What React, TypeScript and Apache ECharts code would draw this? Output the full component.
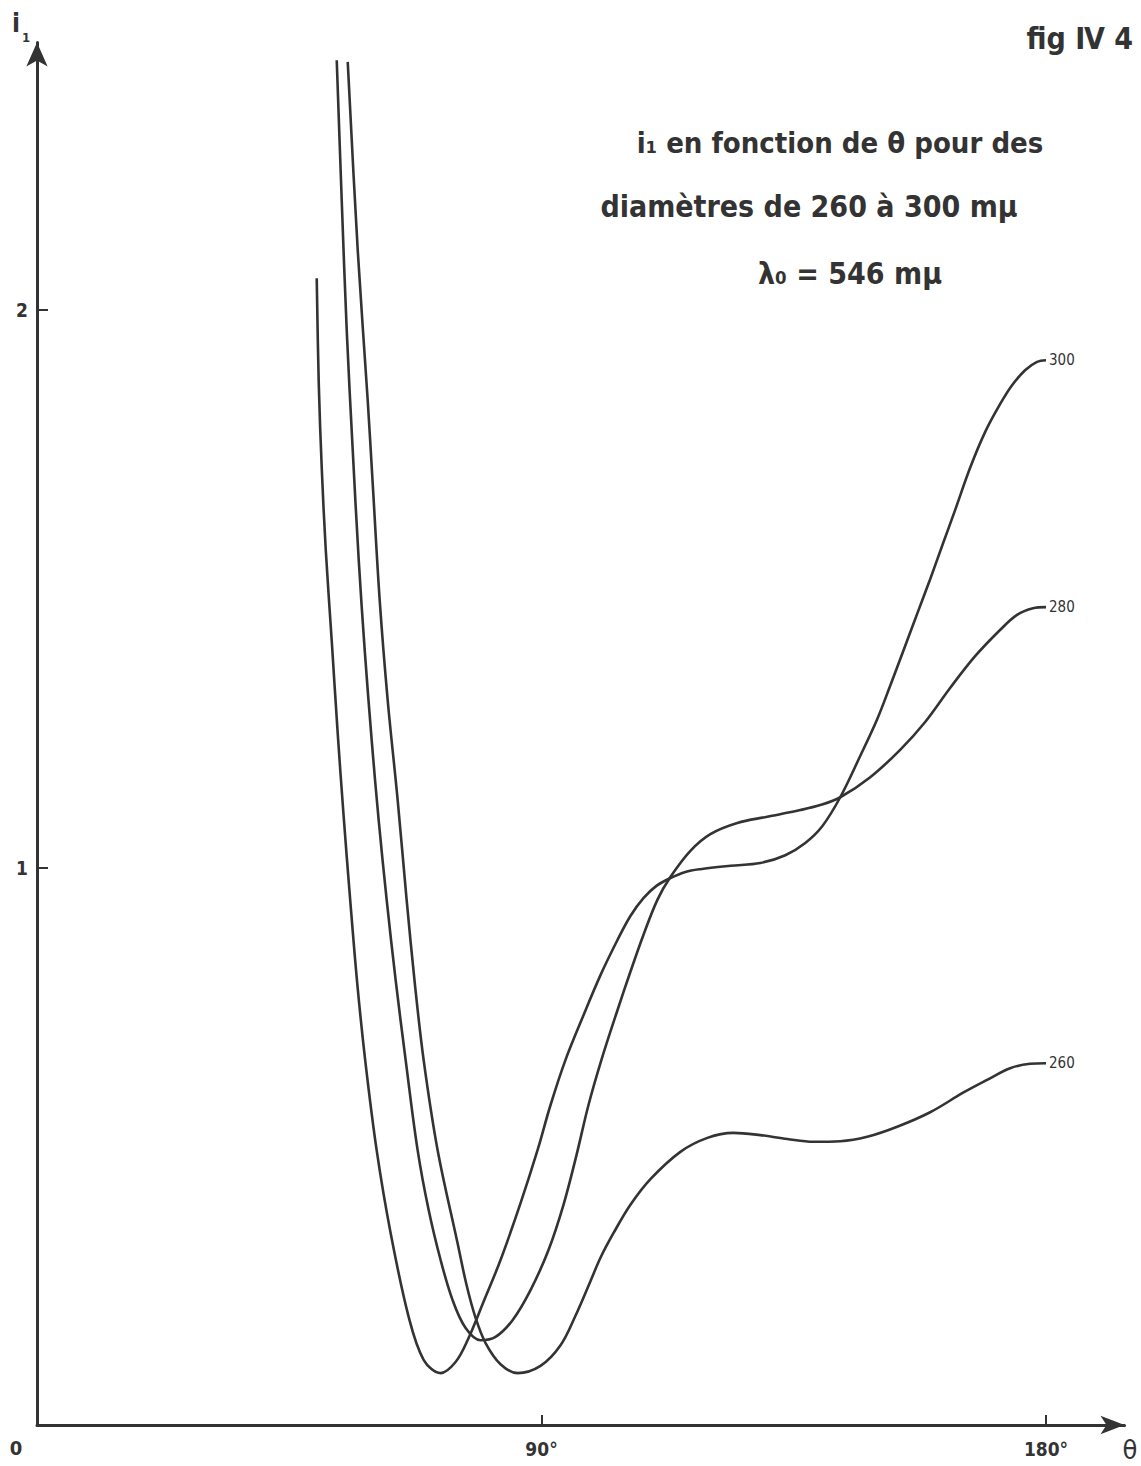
import React, { useEffect, useRef } from "react";
import * as echarts from "echarts";

// Scattering angle θ (degrees) and intensity i1 for each diameter (mμ)
const theta300 = [49.9, 50.26, 50.79, 51.51, 52.57, 53.64, 54.71, 55.87, 57.12, 58.54, 60.59, 63.09, 66.3, 68.97, 72.0, 74.67, 76.81, 79.66, 82.69, 86.26, 89.29, 91.61, 94.28, 97.49, 100.52, 103.55, 105.86, 108.18, 110.5, 112.99, 115.67, 118.34, 123.69, 129.03, 133.49, 137.05, 140.08, 143.29, 146.85, 149.88, 152.2, 154.52, 157.01, 159.33, 161.65, 163.78, 166.46, 169.13, 171.8, 173.94, 176.26, 178.4, 180];
const i300 = [2.057, 1.869, 1.718, 1.57, 1.408, 1.241, 1.091, 0.942, 0.793, 0.655, 0.493, 0.344, 0.194, 0.117, 0.093, 0.113, 0.152, 0.221, 0.296, 0.398, 0.493, 0.574, 0.655, 0.735, 0.807, 0.87, 0.913, 0.945, 0.967, 0.981, 0.992, 0.997, 1.003, 1.008, 1.022, 1.044, 1.074, 1.126, 1.2, 1.266, 1.326, 1.388, 1.455, 1.517, 1.582, 1.641, 1.717, 1.781, 1.831, 1.865, 1.892, 1.907, 1.91];

const theta280 = [53.47, 54.36, 55.25, 56.32, 57.39, 58.46, 59.7, 60.95, 62.38, 63.98, 65.76, 67.9, 69.86, 72.0, 74.14, 76.46, 79.13, 81.8, 84.83, 88.04, 91.25, 93.92, 96.24, 98.38, 100.69, 103.55, 105.86, 108.18, 110.67, 112.99, 116.56, 120.12, 124.93, 130.28, 136.16, 139.72, 143.29, 148.64, 153.98, 158.44, 162.89, 167.35, 171.8, 174.83, 177.68, 180];
const i280 = [2.448, 2.197, 1.964, 1.749, 1.552, 1.39, 1.229, 1.085, 0.942, 0.798, 0.655, 0.493, 0.386, 0.296, 0.224, 0.174, 0.152, 0.158, 0.188, 0.242, 0.314, 0.395, 0.484, 0.574, 0.655, 0.744, 0.813, 0.879, 0.942, 0.983, 1.03, 1.06, 1.08, 1.091, 1.103, 1.112, 1.126, 1.162, 1.211, 1.261, 1.322, 1.379, 1.426, 1.453, 1.465, 1.467];

const theta260 = [55.43, 57.21, 58.99, 59.88, 61.13, 62.56, 64.34, 65.94, 67.37, 68.97, 71.47, 75.03, 76.63, 78.24, 80.02, 82.69, 85.72, 89.82, 93.39, 96.06, 98.73, 100.52, 102.83, 105.86, 109.43, 114.77, 119.59, 124.22, 129.03, 133.84, 138.48, 143.29, 148.1, 153.45, 159.33, 165.21, 169.49, 173.59, 177.15, 180];
const i260 = [2.445, 2.108, 1.839, 1.69, 1.48, 1.3, 1.121, 0.942, 0.795, 0.655, 0.493, 0.326, 0.251, 0.192, 0.147, 0.109, 0.093, 0.106, 0.143, 0.196, 0.258, 0.3, 0.344, 0.395, 0.441, 0.49, 0.515, 0.524, 0.52, 0.513, 0.508, 0.509, 0.517, 0.535, 0.561, 0.596, 0.619, 0.64, 0.648, 0.649];

const diameters = ["300", "280", "260"];
const thetaTicks = [90, 180];
const iTicks = [1, 2];

const titleLines = ["i₁ en fonction de θ pour des", "diamètres de 260 à 300 mμ", "λ₀ = 546 mμ"];
const figLabel = "fig Ⅳ 4";

export default function App() {
  const ref = useRef<HTMLDivElement>(null);

  useEffect(() => {
    if (!ref.current) return;
    const chart = echarts.init(ref.current, null, { renderer: "svg" });
    const ink = "#333333";
    const font = "'DejaVu Sans Condensed', 'DejaVu Sans', sans-serif";
    const pair = (t: number[], v: number[]) => t.map((x, k) => [x, v[k]]);
    const sets = [pair(theta300, i300), pair(theta280, i280), pair(theta260, i260)];

    const txt = (text: string, x: number, y: number, size: number, align = "center", weight = "bold") => ({
      type: "text",
      x,
      y,
      silent: true,
      style: {
        text,
        fill: ink,
        fontSize: size,
        fontFamily: font,
        fontWeight: weight,
        align,
        verticalAlign: "middle",
      },
    });

    chart.setOption({
      animation: false,
      backgroundColor: "#ffffff",
      grid: { left: 37, right: 16.5, top: 42.4, bottom: 41, containLabel: false },
      xAxis: {
        type: "value",
        min: 0,
        max: 194,
        interval: 90,
        splitLine: { show: false },
        axisLine: {
          show: true,
          lineStyle: { color: ink, width: 3 },
          symbol: ["none", "arrow"],
          symbolSize: [14, 24],
        },
        axisTick: {
          show: true,
          inside: true,
          length: 10,
          customValues: thetaTicks,
          lineStyle: { color: ink, width: 2 },
        },
        axisLabel: {
          customValues: thetaTicks,
          formatter: (v: number) => `${v}°`,
          margin: 14,
          color: ink,
          fontSize: 19,
          fontWeight: "bold",
          fontFamily: font,
        },
      },
      yAxis: {
        type: "value",
        min: 0,
        max: 2.48,
        interval: 1,
        splitLine: { show: false },
        axisLine: {
          show: true,
          lineStyle: { color: ink, width: 3 },
          symbol: ["none", "arrow"],
          symbolSize: [16, 24],
        },
        axisTick: {
          show: true,
          inside: true,
          length: 11,
          customValues: iTicks,
          lineStyle: { color: ink, width: 2 },
        },
        axisLabel: {
          customValues: iTicks,
          formatter: (v: number) => `${v}`,
          margin: 9,
          color: ink,
          fontSize: 19,
          fontWeight: "bold",
          fontFamily: font,
        },
      },
      series: diameters.map((d, k) => ({
        type: "line",
        name: d,
        data: sets[k],
        smooth: 0.35,
        symbol: "none",
        showSymbol: false,
        silent: true,
        lineStyle: { color: ink, width: 2.6 },
        endLabel: {
          show: true,
          formatter: (p: any) => p.seriesName,
          color: ink,
          fontSize: 15,
          fontFamily: font,
          distance: 3,
        },
      })),
      graphic: [
        txt("i", 16, 23, 26),
        txt("1", 26, 37, 13),
        txt("0", 16, 1448, 20),
        txt("θ", 1130, 1449, 27, "center", "normal"),
        txt(figLabel, 1133, 38, 30, "right"),
        txt(titleLines[0], 840, 143, 29),
        txt(titleLines[1], 809, 206, 30),
        txt(titleLines[2], 850, 273, 30),
      ],
    });

    return () => chart.dispose();
  }, []);

  return (
    <div
      ref={ref}
      style={{ position: "absolute", left: 0, top: 0, width: 1141, height: 1466, background: "#fff" }}
    />
  );
}
